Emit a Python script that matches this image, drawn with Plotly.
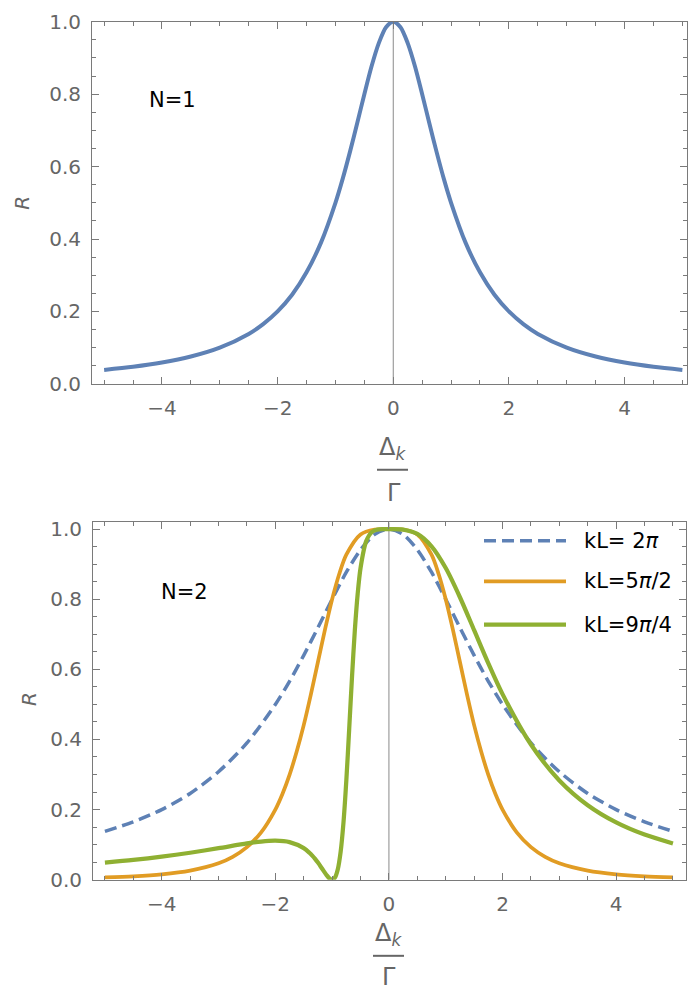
import plotly.graph_objects as go

W, H = 688, 1001

# ---- data -------------------------------------------------------------
# N = 1: reflection R versus detuning Delta_k / Gamma
x_single = [-5, -4.5, -4, -3.5, -3, -2.5, -2.25, -2, -1.75, -1.5, -1.25, -1,
            -0.875, -0.75, -0.625, -0.5, -0.375, -0.25, -0.125, 0,
            0.125, 0.25, 0.375, 0.5, 0.625, 0.75, 0.875, 1,
            1.25, 1.5, 1.75, 2, 2.25, 2.5, 3, 3.5, 4, 4.5, 5]
r_single = [0.0385, 0.0471, 0.0588, 0.0755, 0.100, 0.138, 0.165, 0.200, 0.246, 0.308, 0.390, 0.500,
            0.566, 0.640, 0.719, 0.800, 0.877, 0.941, 0.985, 1.000,
            0.985, 0.941, 0.877, 0.800, 0.719, 0.640, 0.566, 0.500,
            0.390, 0.308, 0.246, 0.200, 0.165, 0.138, 0.100, 0.0755, 0.0588, 0.0471, 0.0385]

# N = 2, kL = 2*pi
x_2pi = [-5, -4.5, -4, -3.5, -3, -2.5, -2, -1.75, -1.5, -1.25, -1, -0.75, -0.5, -0.25, 0,
         0.25, 0.5, 0.75, 1, 1.25, 1.5, 1.75, 2, 2.5, 3, 3.5, 4, 4.5, 5]
r_2pi = [0.138, 0.165, 0.200, 0.246, 0.308, 0.390, 0.500, 0.566, 0.640, 0.719, 0.800, 0.877, 0.941, 0.985, 1.000,
         0.985, 0.941, 0.877, 0.800, 0.719, 0.640, 0.566, 0.500, 0.390, 0.308, 0.246, 0.200, 0.165, 0.138]

# N = 2, kL = 5*pi/2
x_5pi2 = [-5, -4.5, -4, -3.5, -3, -2.75, -2.5, -2.25, -2, -1.875, -1.75, -1.625, -1.5, -1.375, -1.25,
          -1.125, -1, -0.875, -0.75, -0.5, -0.25, 0,
          0.25, 0.5, 0.75, 0.875, 1, 1.125, 1.25, 1.375, 1.5, 1.625, 1.75, 1.875, 2,
          2.25, 2.5, 2.75, 3, 3.5, 4, 4.5, 5]
r_5pi2 = [0.0064, 0.0097, 0.0154, 0.026, 0.047, 0.0654, 0.093, 0.135, 0.200, 0.2445, 0.299, 0.365, 0.441, 0.528, 0.621,
          0.714, 0.800, 0.872, 0.927, 0.985, 0.999, 1.000,
          0.999, 0.985, 0.927, 0.872, 0.800, 0.714, 0.621, 0.528, 0.441, 0.365, 0.299, 0.2445, 0.200,
          0.135, 0.093, 0.0654, 0.047, 0.026, 0.0154, 0.0097, 0.0064]

# N = 2, kL = 9*pi/4
x_9pi4 = [-5, -4.5, -4, -3.5, -3, -2.5, -2.25, -2, -1.75, -1.5, -1.4, -1.35, -1.3, -1.25, -1.2, -1.15,
          -1.1, -1.05, -1, -0.95, -0.9, -0.85, -0.8, -0.75, -0.7, -0.65, -0.6, -0.55, -0.5,
          -0.4, -0.3, -0.2, -0.1, 0, 0.25, 0.5, 0.75, 1, 1.25, 1.5, 1.75, 2, 2.5, 3, 3.5, 4, 4.5, 5]
r_9pi4 = [0.0487, 0.0564, 0.0657, 0.0769, 0.0899, 0.1033, 0.1087, 0.1111, 0.1071, 0.0899, 0.0769, 0.0687,
          0.0593, 0.0487, 0.0371, 0.0251, 0.0135, 0.0041, 0.0, 0.0061, 0.0296, 0.0794, 0.1634, 0.2832,
          0.4285, 0.5785, 0.7117, 0.8157, 0.8889, 0.9657, 0.9918, 0.9988, 0.9999, 1.0,
          0.9988, 0.9863, 0.9509, 0.8889, 0.8057, 0.7117, 0.6172, 0.5294, 0.3855, 0.2832,
          0.2125, 0.1634, 0.1286, 0.1033]

x_tick_vals = [-4, -2, 0, 2, 4]
x_tick_text = ["\u22124", "\u22122", "0", "2", "4"]
y_tick_vals = [0.0, 0.2, 0.4, 0.6, 0.8, 1.0]
y_tick_text = ["0.0", "0.2", "0.4", "0.6", "0.8", "1.0"]

legend_labels = ["kL= 2<i>\u03c0</i>", "kL=5<i>\u03c0</i>/2", "kL=9<i>\u03c0</i>/4"]

# ---- styling ----------------------------------------------------------
BLUE = "#5E81B5"
ORANGE = "#E19C24"
GREEN = "#8FB032"
FRAME = "#7a7a7a"
LABEL = "#666666"
FONT = "DejaVu Sans, Arial, sans-serif"
DASH = "12px,6px"


def px(x):
    return x / W


def py(y):
    return 1 - y / H


fig = go.Figure()

fig.add_trace(go.Scatter(x=x_single, y=r_single, mode="lines",
                         line=dict(color=BLUE, width=4, shape="spline", smoothing=0.8),
                         xaxis="x", yaxis="y", showlegend=False))

pair_series = [
    (x_2pi, r_2pi, BLUE, DASH, 3.5),
    (x_5pi2, r_5pi2, ORANGE, "solid", 3.75),
    (x_9pi4, r_9pi4, GREEN, "solid", 4.25),
]
for xs, ys, col, dash, lw in pair_series:
    fig.add_trace(go.Scatter(x=xs, y=ys, mode="lines",
                             line=dict(color=col, width=lw, dash=dash, shape="spline", smoothing=0.8),
                             xaxis="x2", yaxis="y2", showlegend=False))


def xaxis_style(domain, rng):
    return dict(domain=domain, range=rng, tickvals=x_tick_vals, ticktext=x_tick_text,
                showline=True, linecolor=FRAME, linewidth=1, mirror="allticks",
                ticks="inside", ticklen=7, tickwidth=1, tickcolor=FRAME,
                minor=dict(dtick=0.5, tick0=0, ticks="inside", ticklen=4, tickcolor=FRAME, showgrid=False),
                showgrid=False, zeroline=False, ticklabelstandoff=6,
                tickfont=dict(family=FONT, size=20, color=LABEL))


def yaxis_style(domain, rng, anchor):
    return dict(domain=domain, range=rng, tickvals=y_tick_vals, ticktext=y_tick_text, anchor=anchor,
                showline=True, linecolor=FRAME, linewidth=1, mirror="allticks",
                ticks="inside", ticklen=7, tickwidth=1, tickcolor=FRAME,
                minor=dict(dtick=0.05, tick0=0, ticks="inside", ticklen=4, tickcolor=FRAME, showgrid=False),
                showgrid=False, zeroline=False, ticklabelstandoff=6,
                tickfont=dict(family=FONT, size=20, color=LABEL))


fig.update_layout(
    width=W, height=H,
    margin=dict(l=0, r=0, t=0, b=0),
    paper_bgcolor="white", plot_bgcolor="white",
    xaxis=dict(xaxis_style([px(92), px(687)], [-5.21, 5.08]), anchor="y"),
    yaxis=yaxis_style([py(381), py(10)], [0, 1.0], "x"),
    xaxis2=dict(xaxis_style([px(93), px(686)], [-5.21, 5.23]), anchor="y2"),
    yaxis2=yaxis_style([py(889), py(523)], [0, 1.019], "x2"),
)

shapes = []
# thin vertical reference line at zero detuning in each panel
for xr, yr in (("x", "y domain"), ("x2", "y2 domain")):
    shapes.append(dict(type="line", xref=xr, yref=yr, x0=0, x1=0, y0=0, y1=1,
                       line=dict(color="#8a8a8a", width=1), layer="below"))

annotations = []


def text(x, y, s, size, color="black", angle=0, xanchor="center", yanchor="middle"):
    annotations.append(dict(x=px(x), y=py(y), xref="paper", yref="paper", text=s,
                            showarrow=False, textangle=angle, xanchor=xanchor, yanchor=yanchor,
                            font=dict(family=FONT, size=size, color=color)))


# panel labels
text(172, 90, "N=1", 21)
text(185, 594, "N=2", 21)

# y-axis titles
text(22.5, 196, "<i>R</i>", 20, LABEL, angle=-90)
text(29, 704, "<i>R</i>", 20, LABEL, angle=-90)

# x-axis titles drawn as a stacked fraction  Delta_k / Gamma
for cx, bar_y, gamma_y in ((392.5, 469, 493), (388.5, 967, 989)):
    text(cx, bar_y - 4, "\u0394<sub><i>k</i></sub>", 24, LABEL, yanchor="bottom")
    shapes.append(dict(type="line", xref="paper", yref="paper",
                       x0=px(cx - 15.5), x1=px(cx + 15.5), y0=py(bar_y), y1=py(bar_y),
                       line=dict(color=LABEL, width=2)))
    text(cx + 1, gamma_y, "\u0393", 24, LABEL)

# legend for the N = 2 panel
legend_rows = [541.7, 583.3, 627.7]
legend_styles = [(BLUE, DASH, 3.5), (ORANGE, "solid", 3.75), (GREEN, "solid", 4.25)]
for (col, dash, lw), yrow, label in zip(legend_styles, legend_rows, legend_labels):
    shapes.append(dict(type="line", xref="paper", yref="paper",
                       x0=px(484), x1=px(566), y0=py(yrow), y1=py(yrow),
                       line=dict(color=col, width=lw, dash=dash)))
    text(582, yrow, label, 21, "black", xanchor="left")

fig.update_layout(shapes=shapes, annotations=annotations)

fig.write_html("out.html")
